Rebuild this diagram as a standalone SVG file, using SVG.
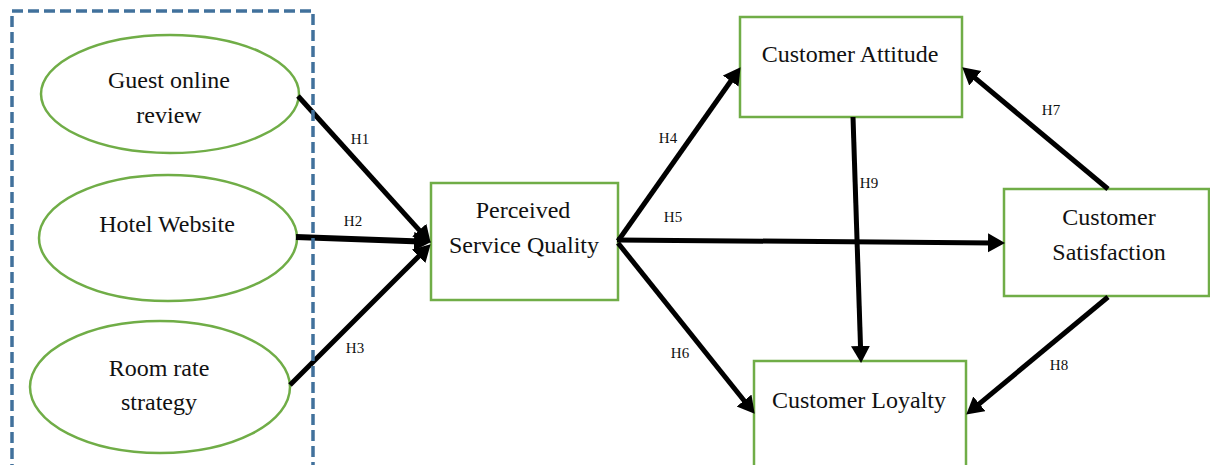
<svg xmlns="http://www.w3.org/2000/svg" width="1210" height="465" viewBox="0 0 1210 465">
  <style>
    .node { fill: #ffffff; stroke: #70AD47; stroke-width: 2.5; }
    .label { font-family: "Liberation Serif", "Times New Roman", serif; font-size: 24px; fill: #111111; text-anchor: middle; }
    .hyp { font-family: "Liberation Serif", "Times New Roman", serif; font-size: 15px; fill: #111111; text-anchor: middle; }
    .link { stroke: #000000; stroke-width: 5; fill: none; marker-end: url(#arrow); }
    .frame { fill: none; stroke: #41719C; stroke-width: 3.5; stroke-dasharray: 11 5; }
  </style>
  <defs>
    <marker id="arrow" markerUnits="userSpaceOnUse" markerWidth="19" markerHeight="21" refX="6" refY="9.5" orient="auto">
      <path d="M0,0 L17,9.5 L0,19 Z" fill="#000000"/>
    </marker>
  </defs>

  <rect width="1210" height="465" fill="#ffffff"/>

  <!-- antecedents -->
  <g id="guest-online-review">
    <ellipse class="node" cx="170" cy="94" rx="129" ry="59"/>
    <text class="label" x="169" y="88">Guest online</text>
    <text class="label" x="169" y="123">review</text>
  </g>
  <g id="hotel-website">
    <ellipse class="node" cx="168" cy="238" rx="129" ry="63"/>
    <text class="label" x="167" y="232">Hotel Website</text>
  </g>
  <g id="room-rate-strategy">
    <ellipse class="node" cx="160" cy="387" rx="130" ry="66"/>
    <text class="label" x="159" y="376">Room rate</text>
    <text class="label" x="159" y="410">strategy</text>
  </g>

  <!-- constructs -->
  <g id="perceived-service-quality">
    <rect class="node" x="431" y="183" width="187" height="117"/>
    <text class="label" x="523" y="218">Perceived</text>
    <text class="label" x="524" y="253">Service Quality</text>
  </g>
  <g id="customer-attitude">
    <rect class="node" x="740" y="17" width="222" height="100"/>
    <text class="label" x="850" y="62">Customer Attitude</text>
  </g>
  <g id="customer-satisfaction">
    <rect class="node" x="1004" y="189" width="205" height="107"/>
    <text class="label" x="1109" y="225">Customer</text>
    <text class="label" x="1109" y="260">Satisfaction</text>
  </g>
  <g id="customer-loyalty">
    <rect class="node" x="754" y="361" width="212" height="110"/>
    <text class="label" x="859" y="408">Customer Loyalty</text>
  </g>

  <!-- hypothesised paths -->
  <g id="connectors">
    <line class="link" x1="298" y1="96" x2="423.3" y2="234.6"/>
    <line class="link" x1="296" y1="237" x2="420" y2="241.6" style="stroke-width:6"/>
    <line class="link" x1="290" y1="385" x2="422.9" y2="252.1"/>
    <line class="link" x1="618" y1="241" x2="734.2" y2="76.2"/>
    <line class="link" x1="617" y1="240" x2="994" y2="242.9"/>
    <line class="link" x1="618" y1="243" x2="747.8" y2="405.2"/>
    <line class="link" x1="1108" y1="189" x2="970.7" y2="74.4"/>
    <line class="link" x1="1108" y1="297" x2="974.7" y2="407.6"/>
    <line class="link" x1="853" y1="117" x2="860.7" y2="352"/>
    <text class="hyp" x="360" y="144">H1</text>
    <text class="hyp" x="353" y="226">H2</text>
    <text class="hyp" x="355" y="353">H3</text>
    <text class="hyp" x="668" y="143">H4</text>
    <text class="hyp" x="673" y="222">H5</text>
    <text class="hyp" x="680" y="358">H6</text>
    <text class="hyp" x="1051" y="115">H7</text>
    <text class="hyp" x="1059" y="370">H8</text>
    <text class="hyp" x="869" y="188">H9</text>
  </g>

  <!-- grouping frame around the antecedents -->
  <g id="antecedent-frame">
    <path class="frame" d="M12,475 L12,11 L313,11 L313,475"/>
  </g>
</svg>
